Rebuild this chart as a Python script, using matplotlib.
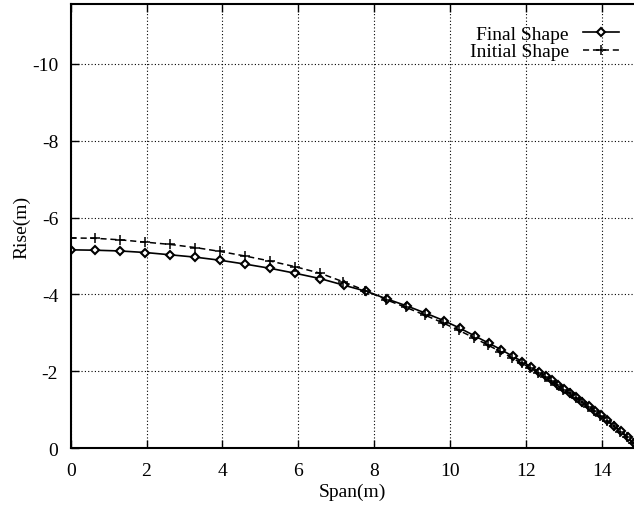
import numpy as np
import matplotlib
matplotlib.use("Agg")
import matplotlib.pyplot as plt

plt.rcParams['font.family'] = ['Liberation Serif', 'DejaVu Serif']
plt.rcParams['axes.unicode_minus'] = False

# final shape nodes (span, rise)
final_x = [0, 0.65, 1.31, 1.97, 2.63, 3.28, 3.93, 4.59, 5.25, 5.92, 6.58, 7.20, 7.79,
           8.34, 8.86, 9.36, 9.83, 10.26, 10.65, 11.02, 11.35, 11.65, 11.91, 12.14,
           12.34, 12.52, 12.68, 12.84, 13.01, 13.17, 13.33, 13.49, 13.66, 13.82,
           13.98, 14.15, 14.33, 14.51, 14.68, 14.84]
final_y = [-5.16, -5.15, -5.13, -5.09, -5.03, -4.97, -4.89, -4.79, -4.68, -4.55, -4.41,
           -4.24, -4.08, -3.88, -3.70, -3.51, -3.32, -3.12, -2.92, -2.73, -2.56, -2.39,
           -2.25, -2.11, -1.99, -1.87, -1.76, -1.65, -1.54, -1.43, -1.32, -1.21, -1.09,
           -0.97, -0.85, -0.72, -0.58, -0.44, -0.29, -0.12]

# initial shape nodes
init_x = [0, 0.65, 1.31, 1.97, 2.63, 3.28, 3.93, 4.59, 5.25, 5.92, 6.58, 7.18, 7.77,
          8.32, 8.84, 9.34, 9.81, 10.24, 10.63, 11.00, 11.33, 11.63, 11.89, 12.12,
          12.32, 12.50, 12.66, 12.82, 12.99, 13.15, 13.31, 13.47, 13.64, 13.80,
          13.96, 14.13, 14.31, 14.49, 14.66, 14.83]
init_y = [-5.47, -5.46, -5.42, -5.36, -5.30, -5.22, -5.12, -5.00, -4.87, -4.72, -4.55,
          -4.33, -4.10, -3.86, -3.66, -3.46, -3.26, -3.06, -2.87, -2.68, -2.51, -2.35,
          -2.21, -2.08, -1.96, -1.85, -1.74, -1.63, -1.52, -1.42, -1.31, -1.20, -1.08,
          -0.96, -0.84, -0.71, -0.57, -0.43, -0.28, -0.12]

xticks = [0, 2, 4, 6, 8, 10, 12, 14]
yticks = [0, -2, -4, -6, -8, -10]

fig = plt.figure(figsize=(6.34, 5.06), dpi=100)
ax = fig.add_axes([0.1115, 0.1126, 0.8885, 0.8775])

ax.plot(final_x, final_y, color='black', lw=1.2, marker='D', markersize=4,
        markerfacecolor='white', markeredgewidth=1.5, label='Final Shape')
ax.plot(init_x, init_y, color='black', lw=1.1, ls=(0, (4, 2.5)), marker='+',
        markersize=6.5, markeredgewidth=1.1, label='Initial Shape')

ax.set_xlim(0, 14.85)
ax.set_ylim(0, -11.56)
ax.set_xticks(xticks)
ax.set_yticks(yticks)
ax.set_xticklabels([str(t) for t in xticks])
ax.set_yticklabels([str(t) for t in yticks])
ax.tick_params(direction='in', length=6, width=1, labelsize=14, top=True, right=False)
ax.tick_params(axis='x', pad=10)
ax.tick_params(axis='y', pad=9)
ax.grid(True, color='black', ls=(0, (1, 2)), lw=0.8)
for s in ax.spines.values():
    s.set_linewidth(1.5)
ax.spines['right'].set_visible(False)

ax.set_xlabel('Span(m)', fontsize=14, labelpad=3)
ax.set_ylabel('Rise(m)', fontsize=14, labelpad=1)

ax.legend(loc='upper right', frameon=False, markerfirst=False, fontsize=14,
          handlelength=1.9, handletextpad=0.7, labelspacing=0.0,
          bbox_to_anchor=(0.988, 0.97), borderaxespad=0)

fig.savefig('out.png', dpi=100)
